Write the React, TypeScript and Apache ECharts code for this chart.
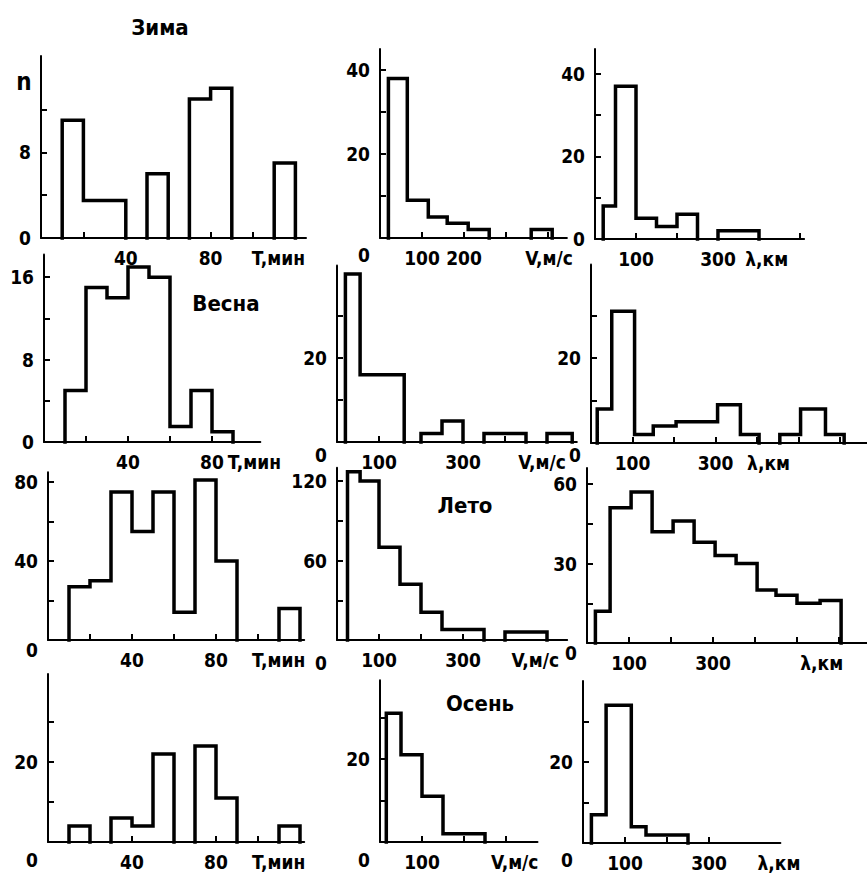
import { useEffect, useRef } from 'react';
import * as echarts from 'echarts';

// Histogram bins: [from, to, count]
const winterT = [[10, 20, 11], [20, 40, 3.5], [50, 60, 6], [70, 80, 13], [80, 90, 14], [110, 120, 7]];
const winterV = [[20, 65, 38], [65, 115, 9], [115, 160, 5], [160, 210, 3.5], [210, 260, 2], [360, 410, 2]];
const winterL = [[20, 50, 8], [50, 100, 37], [100, 150, 5], [150, 200, 3], [200, 250, 6], [300, 400, 2]];
const springT = [[10, 20, 5], [20, 30, 15], [30, 40, 14], [40, 50, 17], [50, 60, 16], [60, 70, 1.5], [70, 80, 5], [80, 90, 1]];
const springV = [[20, 55, 40], [55, 160, 16], [200, 250, 2], [250, 300, 5], [350, 450, 2], [500, 560, 2]];
const springL = [[15, 50, 8], [50, 105, 31], [105, 150, 2], [150, 205, 4], [205, 305, 5], [305, 360, 9], [360, 405, 2], [455, 505, 2], [505, 565, 8], [565, 610, 2]];
const summerT = [[10, 20, 27], [20, 30, 30], [30, 40, 75], [40, 50, 55], [50, 60, 75], [60, 70, 14], [70, 80, 81], [80, 90, 40], [110, 120, 16]];
const summerV = [[25, 55, 127], [55, 100, 120], [100, 150, 70], [150, 200, 42], [200, 250, 21], [250, 350, 8], [400, 500, 6]];
const summerL = [[20, 55, 12], [55, 105, 51], [105, 155, 57], [155, 205, 42], [205, 255, 46], [255, 305, 38], [305, 355, 33], [355, 405, 30], [405, 450, 20], [450, 500, 18], [500, 555, 15], [555, 605, 16]];
const autumnT = [[10, 20, 4], [30, 40, 6], [40, 50, 4], [50, 60, 22], [70, 80, 24], [80, 90, 11], [110, 120, 4]];
const autumnV = [[15, 50, 31], [50, 100, 21], [100, 150, 11], [150, 250, 2]];
const autumnL = [[20, 55, 7], [55, 115, 34], [115, 150, 4], [150, 250, 2]];

// Tick values / tick labels
const tTicks = [20, 40, 60, 80, 100];
const tLabels = [40, 80];
const vTicks = [100, 200, 300, 400, 500];
const lTicks = [100, 200, 300, 400, 500, 600];
const lLabels = [100, 300];

const seasons = ['Зима', 'Весна', 'Лето', 'Осень'];
const T_NAME = 'T,мин';
const V_NAME = 'V,м/с';
const L_NAME = 'λ,км';

const FONT = "'DejaVu Sans Condensed', 'DejaVu Sans', sans-serif";

type Panel = {
  bins: number[][];
  x0: number; sx: number; xmax: number; xTicks: number[]; xLabels: number[]; xName: string; nameGap: number;
  yb: number; sy: number; ymax: number; yTicks: number[]; yLabels: number[]; zeroDrop: number;
};

const PANELS: Panel[] = [
  { bins: winterT, x0: 41, sx: 2.12, xmax: 125, xTicks: tTicks, xLabels: tLabels, xName: T_NAME, nameGap: -1,
    yb: 238, sy: 10.7, ymax: 17, yTicks: [4, 8, 12], yLabels: [0, 8], zeroDrop: 0 },
  { bins: winterV, x0: 380, sx: 0.42, xmax: 445, xTicks: [100, 200, 300, 400], xLabels: [100, 200], xName: V_NAME, nameGap: 6,
    yb: 238, sy: 4.2, ymax: 45, yTicks: [10, 20, 30, 40], yLabels: [0, 20, 40], zeroDrop: 17 },
  { bins: winterL, x0: 595, sx: 0.41, xmax: 510, xTicks: [100, 200, 300, 400, 500], xLabels: lLabels, xName: L_NAME, nameGap: -16,
    yb: 239, sy: 4.13, ymax: 46, yTicks: [10, 20, 30, 40], yLabels: [0, 20, 40], zeroDrop: 0 },

  { bins: springT, x0: 44, sx: 2.1, xmax: 103, xTicks: [20, 40, 60, 80], xLabels: tLabels, xName: T_NAME, nameGap: 2,
    yb: 442, sy: 10.3, ymax: 18.2, yTicks: [4, 8, 12, 16], yLabels: [0, 8, 16], zeroDrop: 0 },
  { bins: springV, x0: 337, sx: 0.42, xmax: 571, xTicks: vTicks, xLabels: [100, 300], xName: V_NAME, nameGap: -11,
    yb: 442, sy: 4.2, ymax: 42, yTicks: [10, 20, 30], yLabels: [0, 20], zeroDrop: 13 },
  { bins: springL, x0: 591, sx: 0.415, xmax: 665, xTicks: lTicks, xLabels: lLabels, xName: L_NAME, nameGap: -77,
    yb: 443, sy: 4.25, ymax: 42, yTicks: [10, 20, 30], yLabels: [0, 20], zeroDrop: 12 },

  { bins: summerT, x0: 48, sx: 2.1, xmax: 122, xTicks: tTicks, xLabels: tLabels, xName: T_NAME, nameGap: 1,
    yb: 640, sy: 1.975, ymax: 85, yTicks: [20, 40, 60, 80], yLabels: [0, 40, 80], zeroDrop: 10 },
  { bins: summerV, x0: 337, sx: 0.42, xmax: 548, xTicks: [100, 200, 300], xLabels: [100, 300], xName: V_NAME, nameGap: -8,
    yb: 640, sy: 1.325, ymax: 130, yTicks: [30, 60, 90, 120], yLabels: [0, 60, 120], zeroDrop: 23 },
  { bins: summerL, x0: 587, sx: 0.42, xmax: 667, xTicks: lTicks, xLabels: lLabels, xName: L_NAME, nameGap: -24,
    yb: 643, sy: 2.65, ymax: 66, yTicks: [15, 30, 45, 60], yLabels: [0, 30, 60], zeroDrop: 10 },

  { bins: autumnT, x0: 48, sx: 2.1, xmax: 122, xTicks: tTicks, xLabels: tLabels, xName: T_NAME, nameGap: 1,
    yb: 842, sy: 4.0, ymax: 42, yTicks: [10, 20, 30], yLabels: [0, 20], zeroDrop: 18 },
  { bins: autumnV, x0: 380, sx: 0.42, xmax: 375, xTicks: [100, 200, 300], xLabels: [100], xName: V_NAME, nameGap: 1,
    yb: 842, sy: 4.15, ymax: 39, yTicks: [10, 20, 30], yLabels: [0, 20], zeroDrop: 18 },
  { bins: autumnL, x0: 583, sx: 0.42, xmax: 470, xTicks: [100, 200, 300], xLabels: lLabels, xName: L_NAME, nameGap: 20,
    yb: 843, sy: 4.05, ymax: 40, yTicks: [10, 20, 30], yLabels: [0, 20], zeroDrop: 17 },
];

const TITLES = [
  { text: seasons[0], x: 160, y: 27 },
  { text: seasons[1], x: 226, y: 303 },
  { text: seasons[2], x: 465, y: 505 },
  { text: seasons[3], x: 480, y: 703 },
];

function outline(bins: number[][]): number[][][] {
  const segs: number[][][] = [];
  let cur: number[][] | null = null;
  let end = NaN;
  for (const [a, b, n] of bins) {
    if (cur && end === a) {
      cur.push([a, n], [b, n]);
    } else {
      if (cur) { cur.push([end, 0]); segs.push(cur); }
      cur = [[a, 0], [a, n], [b, n]];
    }
    end = b;
  }
  if (cur) { cur.push([end, 0]); segs.push(cur); }
  return segs;
}

const textBase = { color: '#000', fontFamily: FONT, fontWeight: 'bold' as const, fontSize: 19 };

function buildOption() {
  const grid: any[] = [];
  const xAxis: any[] = [];
  const yAxis: any[] = [];
  const series: any[] = [];
  PANELS.forEach((p, i) => {
    grid.push({
      left: p.x0, top: p.yb - p.ymax * p.sy, width: p.xmax * p.sx, height: p.ymax * p.sy,
      containLabel: false, outerBoundsMode: 'none',
    });
    xAxis.push({
      type: 'value', gridIndex: i, min: 0, max: p.xmax,
      axisLine: { show: true, onZero: false, lineStyle: { color: '#000', width: 2 } },
      axisTick: { show: true, inside: true, length: 6, customValues: p.xTicks, lineStyle: { color: '#000', width: 2 } },
      axisLabel: { ...textBase, customValues: p.xLabels, margin: 10 },
      splitLine: { show: false },
      name: p.xName, nameLocation: 'end', nameGap: p.nameGap,
      nameTextStyle: { ...textBase, align: 'right', verticalAlign: 'top', padding: [10, 0, 0, 0] },
    });
    yAxis.push({
      type: 'value', gridIndex: i, min: 0, max: p.ymax,
      axisLine: { show: true, onZero: false, lineStyle: { color: '#000', width: 2 } },
      axisTick: { show: true, inside: true, length: 6, customValues: p.yTicks, lineStyle: { color: '#000', width: 2 } },
      axisLabel: {
        ...textBase, customValues: p.yLabels, margin: 10,
        formatter: (v: number) => (v === 0 && p.zeroDrop ? '{d|0}' : String(v)),
        rich: { d: { ...textBase, padding: [p.zeroDrop * 2, 0, 0, 0] } },
      },
      splitLine: { show: false },
    });
    outline(p.bins).forEach((pts) => {
      series.push({
        type: 'line', xAxisIndex: i, yAxisIndex: i, data: pts,
        symbol: 'none', showSymbol: false, silent: true, clip: false,
        lineStyle: { color: '#000', width: 3.5, join: 'miter', cap: 'square' },
      });
    });
  });

  const graphic: any[] = TITLES.map((t) => ({
    type: 'text', x: t.x, y: t.y,
    style: { text: t.text, fill: '#000', fontFamily: FONT, fontWeight: 'bold', fontSize: 22, align: 'center', verticalAlign: 'middle' },
  }));
  graphic.push({
    type: 'text', x: 24, y: 82,
    style: { text: 'n', fill: '#000', fontFamily: FONT, fontWeight: 'bold', fontSize: 24, align: 'center', verticalAlign: 'middle' },
  });

  return { animation: false, backgroundColor: '#fff', grid, xAxis, yAxis, series, graphic };
}

export default function App() {
  const ref = useRef<HTMLDivElement>(null);
  useEffect(() => {
    const chart = echarts.init(ref.current!, null, { renderer: 'svg' });
    chart.setOption(buildOption());
    return () => chart.dispose();
  }, []);
  return (
    <div
      ref={ref}
      style={{ position: 'fixed', left: 0, top: 0, width: 867, height: 876, background: '#fff' }}
    />
  );
}
